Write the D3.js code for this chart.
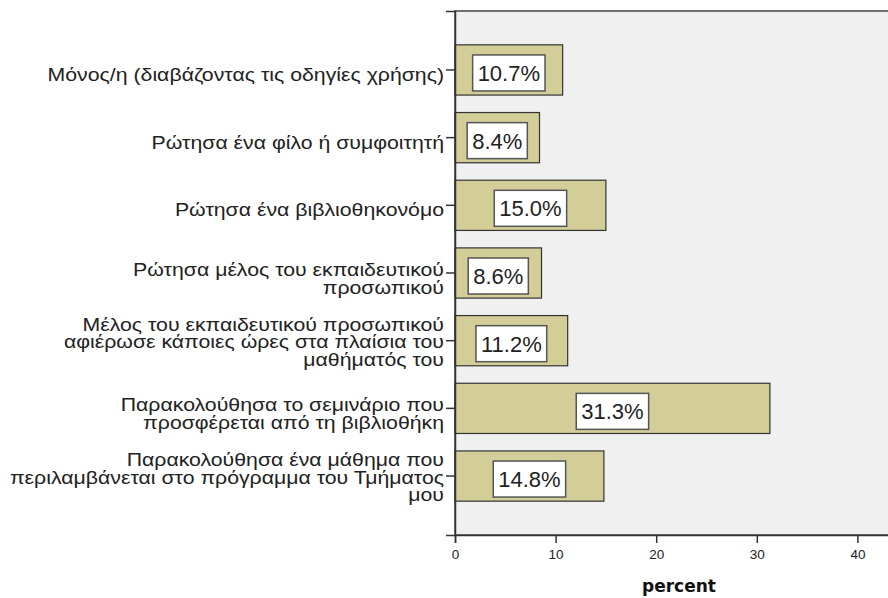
<!DOCTYPE html>
<html>
<head>
<meta charset="utf-8">
<script src="https://cdn.jsdelivr.net/npm/d3@7"></script>
<style>
  html, body { margin: 0; padding: 0; background: #ffffff; }
  svg { display: block; }
</style>
</head>
<body>
<svg id="chart" width="888" height="598"></svg>
<script>
const categories = [
  ["Μόνος/η (διαβάζοντας τις οδηγίες χρήσης)"],
  ["Ρώτησα  ένα φίλο ή συμφοιτητή"],
  ["Ρώτησα ένα βιβλιοθηκονόμο"],
  ["Ρώτησα μέλος του εκπαιδευτικού", "προσωπικού"],
  ["Μέλος του εκπαιδευτικού προσωπικού", "αφιέρωσε κάποιες ώρες στα πλαίσια του", "μαθήματός του"],
  ["Παρακολούθησα το σεμινάριο που", "προσφέρεται από τη βιβλιοθήκη"],
  ["Παρακολούθησα ένα μάθημα που", "περιλαμβάνεται στο πρόγραμμα του Τμήματος", "μου"]
];
const values = [10.7, 8.4, 15.0, 8.6, 11.2, 31.3, 14.8];
const xTicks = [0, 10, 20, 30, 40];
const xTitle = "percent";

(function () {
const svg = d3.select("#chart");
const pLeft = 455, pTop = 11, pBottom = 535, pRight = 958;

const keys = categories.map((c, i) => i);
const x = d3.scaleLinear().domain([0, 50]).range([pLeft, pRight]);
const y = d3.scaleBand().domain(keys).range([pTop, pBottom]).paddingInner(0.258).paddingOuter(0.5);

// plot background
svg.append("rect")
  .attr("x", pLeft).attr("y", pTop)
  .attr("width", pRight - pLeft).attr("height", pBottom - pTop)
  .attr("fill", "#f0f0f0")
  .attr("stroke", "#444").attr("stroke-width", 1.5);

// bars
svg.selectAll("rect.bar").data(values).enter().append("rect")
  .attr("class", "bar")
  .attr("x", x(0))
  .attr("y", (d, i) => y(i))
  .attr("width", d => x(d) - x(0))
  .attr("height", y.bandwidth())
  .attr("fill", "#d3ce98")
  .attr("stroke", "#333").attr("stroke-width", 1.2);

// value labels
const lab = svg.selectAll("g.vlab").data(values).enter().append("g").attr("class", "vlab");
lab.each(function(d, i) {
  const g = d3.select(this);
  const cx = (x(0) + x(d)) / 2;
  const cy = y(i) + y.bandwidth() / 2 + 3;
  const t = g.append("text")
    .attr("x", cx).attr("y", cy + 8)
    .attr("text-anchor", "middle")
    .attr("font-family", "'Liberation Sans', Arial, sans-serif")
    .attr("font-size", 22)
    .attr("fill", "#222")
    .text(d.toFixed(1) + "%");
  const w = t.node().getComputedTextLength();
  g.insert("rect", "text")
    .attr("x", cx - w / 2 - 5).attr("y", cy - 18)
    .attr("width", w + 10).attr("height", 36)
    .attr("fill", "#ffffff")
    .attr("stroke", "#555").attr("stroke-width", 1.5);
});

// y axis (ticks only)
const yAxis = svg.append("g")
  .attr("transform", `translate(${pLeft},0)`)
  .call(d3.axisLeft(y).tickSize(9).tickFormat(""));
yAxis.select(".domain").attr("stroke", "#333").attr("stroke-width", 1.5);
yAxis.selectAll(".tick line").attr("stroke", "#333").attr("stroke-width", 1.5);

// category labels
const offsets = {1: [11], 2: [3, 21], 3: [-10, 7.5, 25]};
categories.forEach((lines, i) => {
  const cy = y(i) + y.bandwidth() / 2;
  const t = svg.append("text")
    .attr("transform", "translate(444,0) scale(1.12,1)")
    .attr("text-anchor", "end")
    .attr("font-family", "'Liberation Sans', Arial, sans-serif")
    .attr("font-size", 19)
    .attr("fill", "#222");
  lines.forEach((ln, j) => {
    t.append("tspan").attr("x", 0).attr("y", cy + offsets[lines.length][j]).text(ln);
  });
});

// x axis
const xAxis = svg.append("g")
  .attr("transform", `translate(0,${pBottom})`)
  .call(d3.axisBottom(x).tickValues(xTicks).tickSize(8).tickFormat(d3.format("d")));
xAxis.select(".domain").attr("stroke", "#333").attr("stroke-width", 1.5);
xAxis.selectAll(".tick line").attr("stroke", "#333").attr("stroke-width", 1.5);
xAxis.selectAll(".tick text")
  .attr("font-family", "'Liberation Sans', Arial, sans-serif")
  .attr("font-size", 13.5).attr("fill", "#222").attr("dy", "0.85em").attr("y", 13);

svg.append("text")
  .attr("x", 679).attr("y", 592)
  .attr("text-anchor", "middle")
  .attr("font-family", "'DejaVu Sans', sans-serif")
  .attr("font-weight", "bold")
  .attr("font-size", 17)
  .attr("fill", "#111")
  .text(xTitle);
})();
</script>
</body>
</html>
